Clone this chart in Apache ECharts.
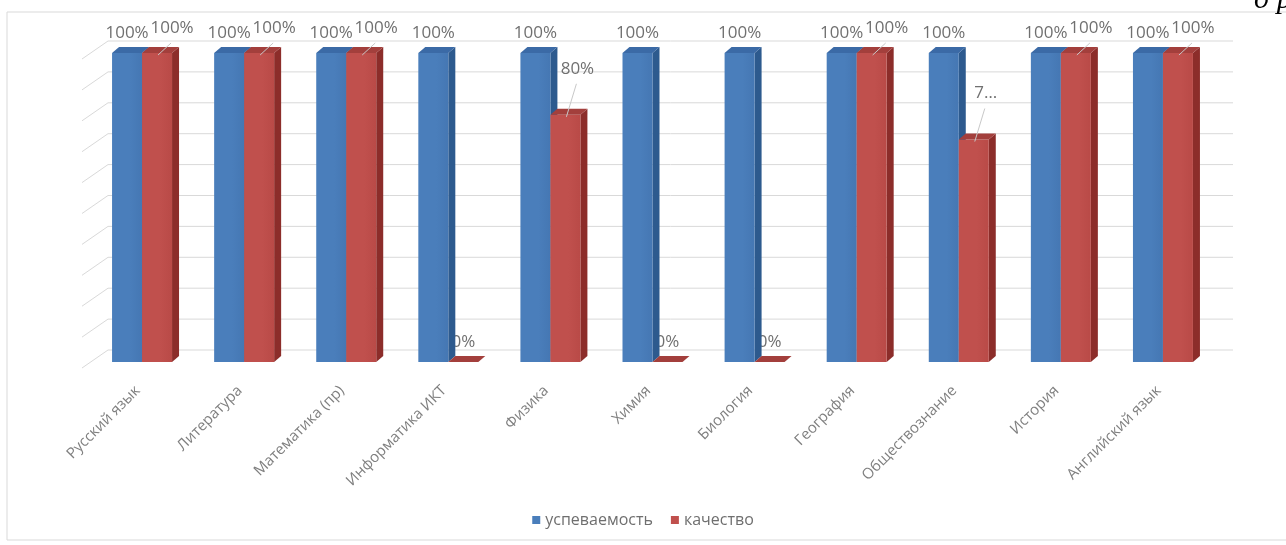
<!DOCTYPE html>
<html><head><meta charset="utf-8">
<script src="https://cdn.jsdelivr.net/npm/echarts@6/dist/echarts.min.js"></script>
<style>html,body{margin:0;padding:0;background:#fff}#c{width:1286px;height:545px}</style>
</head><body><div id="c"></div>
<script>
// ---- data ----
const categories = ['Русский язык','Литература','Математика (пр)','Информатика ИКТ','Физика','Химия','Биология','География','Обществознание','История','Английский язык'];
const seriesNames = ['успеваемость','качество'];
const progressValues = [100,100,100,100,100,100,100,100,100,100,100];
const qualityValues = [100,100,100,0,80,0,0,100,72,100,100];
const progressLabels = progressValues.map(v => v + '%');
const qualityLabels = ['100%','100%','100%','0%','80%','0%','0%','100%','7…','100%','100%'];
const gridTicks = [0,10,20,30,40,50,60,70,80,90,100];

// ---- style ----
const BAR_FRAC = 30 / 102.1;
const DX = 7, DY = 6;
const PAL = [
  {front:'#4a7ebb', side:'#2d5a8e', top:'#3b6aa6'},
  {front:'#c0504d', side:'#8c2d2a', top:'#a33f3c'}
];
const LABEL_FONT = '17px "Open Sans", sans-serif';
const LABEL_COLOR = '#707070';
const GRID_COLOR = '#d9d9d9';

function renderWall(params, api){
  const v = api.value(1);
  const cs = params.coordSys;
  const y = api.coord([0, v])[1];
  const backY = y - 12;
  const leftX = cs.x + 17;
  return {type:'group', children:[
    {type:'line', shape:{x1:leftX, y1:backY, x2:cs.x + cs.width + 19, y2:backY}, style:{stroke:GRID_COLOR, lineWidth:1}},
    {type:'line', shape:{x1:cs.x - 9, y1:y + 6, x2:leftX, y2:backY}, style:{stroke:GRID_COLOR, lineWidth:1}}
  ]};
}

function barGeom(api, side){
  const i = api.value(0), v = api.value(1);
  const top = api.coord([i, v]), base = api.coord([i, 0]);
  const w = api.size([1, 0])[0] * BAR_FRAC;
  const x0 = side === 0 ? top[0] - w : top[0];
  return {x0, x1: x0 + w, w, yT: top[1], yB: base[1], v};
}

function makeBar(side){
  const pal = PAL[side];
  return function(params, api){
    const g = barGeom(api, side);
    const {x0, x1, w, yT, yB} = g;
    const children = [
      {type:'polygon', shape:{points:[[x1,yT],[x1+DX,yT-DY],[x1+DX,yB-DY],[x1,yB]]}, style:{fill:pal.side}},
      {type:'rect', shape:{x:x0, y:yT, width:w, height:Math.max(yB - yT, 0)},
        style:{fill:new echarts.graphic.LinearGradient(0,0,1,0,[{offset:0,color:pal.front},{offset:0.6,color:pal.front},{offset:1,color:side===0?'#4577b3':'#b94a47'}])}},
      {type:'polygon', shape:{points:[[x0,yT],[x0+DX,yT-DY],[x1+DX,yT-DY],[x1,yT]]}, style:{fill:pal.top}}
    ];
    if (side === 0) {
      children.push({type:'text', style:{text:progressLabels[params.dataIndex], x:x0 + w/2, y:yT - 20,
        align:'center', verticalAlign:'middle', font:LABEL_FONT, fill:LABEL_COLOR}});
    }
    return {type:'group', children};
  };
}

function redLabelOffset(v){
  if (v >= 100) return [15, -25];
  if (v <= 0) return [0, -20];
  return [12, -46];
}

function renderRedText(params, api){
  const g = barGeom(api, 1);
  const cx = g.x0 + g.w/2;
  const o = redLabelOffset(g.v);
  return {type:'text', style:{text:qualityLabels[params.dataIndex], x:cx + o[0], y:g.yT + o[1],
    align:'center', verticalAlign:'middle', font:LABEL_FONT, fill:LABEL_COLOR}};
}

function renderRedLeader(params, api){
  const g = barGeom(api, 1);
  if (g.v <= 0) return null;
  const cx = g.x0 + g.w/2;
  const o = redLabelOffset(g.v);
  return {type:'line', shape:{x1:cx + 1, y1:g.yT + 2, x2:cx + o[0] - 1, y2:g.yT + o[1] + 15},
    style:{stroke:'#c8c8c8', lineWidth:1}};
}

const chart = echarts.init(document.getElementById('c'), null, {renderer:'canvas'});
chart.setOption({
  animation:false,
  backgroundColor:'#ffffff',
  grid:{left:91, right:72, top:53, bottom:183},
  xAxis:{type:'category', data:categories, axisLine:{show:false}, axisTick:{show:false},
    axisLabel:{interval:0, rotate:45, margin:22, padding:[0,6,0,0], fontSize:15, color:'#7f7f7f', fontFamily:'"Open Sans", sans-serif'}},
  yAxis:{type:'value', min:0, max:100, interval:10, show:false},
  legend:{data:seriesNames, left:'center', top:507, icon:'rect', itemWidth:8, itemHeight:8, itemGap:18,
    textStyle:{fontSize:16, color:'#6f6f6f', fontFamily:'"Open Sans", sans-serif'}},
  graphic:[
    {type:'rect', shape:{x:7, y:12, width:1300, height:528}, style:{fill:'none', stroke:'#d9d9d9', lineWidth:1}, z:-1},
    {type:'text', x:1254, y:15, style:{text:'д р', font:'italic 30px "Liberation Serif", serif', fill:'#000', verticalAlign:'bottom'}}
  ],
  series:[
    {type:'custom', name:'wall', silent:true, z:0, renderItem:renderWall, data:gridTicks.map(v => [0, v]), encode:{x:0, y:1}},
    {type:'custom', name:'qualityLabels', silent:true, z:1, renderItem:renderRedText, data:qualityValues.map((v,i) => [i, v]), encode:{x:0, y:1}},
    {type:'custom', name:seriesNames[0], z:2, itemStyle:{color:PAL[0].front}, renderItem:makeBar(0), data:progressValues.map((v,i) => [i, v]), encode:{x:0, y:1}},
    {type:'custom', name:seriesNames[1], z:3, itemStyle:{color:PAL[1].front}, renderItem:makeBar(1), data:qualityValues.map((v,i) => [i, v]), encode:{x:0, y:1}},
    {type:'custom', name:'qualityLeaders', silent:true, z:4, renderItem:renderRedLeader, data:qualityValues.map((v,i) => [i, v]), encode:{x:0, y:1}}
  ]
});
</script></body></html>
